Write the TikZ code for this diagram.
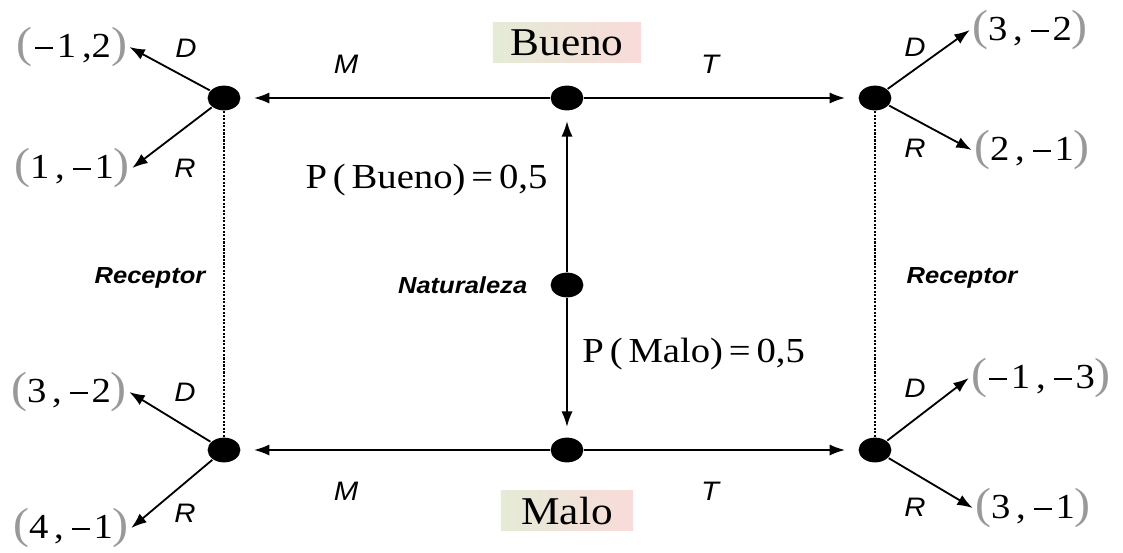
\documentclass[tikz,border=0pt]{standalone}
\usepackage{fontspec}
\setmainfont[FakeStretch=1.1]{Liberation Serif}
\setsansfont[FakeStretch=1.1]{Liberation Sans}
\usepackage{tikz}
\usetikzlibrary{arrows.meta, positioning, shapes.geometric}

\definecolor{stategreen}{RGB}{228,235,214}
\definecolor{statepink}{RGB}{249,219,217}
\newcommand{\paren}[1]{{\color{black!40}\fontsize{31}{31}\selectfont#1}}
\newcommand{\payoff}[2]{\paren{(}#1\,,\,#2\paren{)}}
\newcommand{\mn}{\hspace{0.06em}\rule[0.24em]{0.52em}{0.05em}\hspace{0.1em}}

\begin{document}
\begin{tikzpicture}[
    x=0.025cm, y=-0.025cm,
    every node/.style={align=center},
    dot/.style={ellipse, fill=black, inner sep=0pt, minimum width=0.82cm, minimum height=0.62cm},
    pay/.style={font=\fontsize{25}{27}\selectfont, inner sep=1pt},
    act/.style={font=\sffamily\itshape\fontsize{19}{21}\selectfont, inner sep=0pt},
    player/.style={font=\sffamily\bfseries\itshape\fontsize{16.5}{18}\selectfont},
    state/.style={font=\fontsize{28}{32}\selectfont, left color=stategreen, right color=statepink, inner sep=0pt, minimum width=3.7cm, minimum height=1cm},
    prob/.style={font=\fontsize{25}{28}\selectfont},
    >={Latex[length=11pt, width=8pt]},
    line width=1.3pt
]
\useasboundingbox (0,0) rectangle (1123,552);

% nodes of the game
\node[dot] (nat) at (567,285) {};
\node[dot] (good) at (567,98) {};
\node[dot] (bad) at (567,450) {};
\node[dot] (gl) at (224,98) {};
\node[dot] (gr) at (875,98) {};
\node[dot] (bl) at (224,450) {};
\node[dot] (br) at (875,450) {};

\node[state, above=15pt of good] (goodlab) {Bueno};
\node[state, below=19pt of bad, minimum width=3.3cm] (badlab) {Malo};
\node[player, left=12pt of nat] (natlab) {Naturaleza};
\node[player] (recl) at (150,278) {Receptor};
\node[player] (recr) at (962,278) {Receptor};

% payoffs
\node[pay] (p1) at (72,47) {\paren{(}\mn1\,,2\paren{)}};
\node[pay] (p2) at (72,168) {\payoff{1}{\mn1}};
\node[pay] (p3) at (1030,30) {\payoff{3}{\mn2}};
\node[pay] (p4) at (1032,150) {\payoff{2}{\mn1}};
\node[pay] (p5) at (69,392) {\payoff{3}{\mn2}};
\node[pay] (p6) at (71,528) {\payoff{4}{\mn1}};
\node[pay] (p7) at (1041,378) {\payoff{\mn1}{\mn3}};
\node[pay] (p8) at (1033,508) {\payoff{3}{\mn1}};

% chance moves
\draw[->, shorten >=7pt] (nat) -- node[prob, pos=.57, left=10pt] {P\,(\,Bueno)\,=\,0,5} (good);
\draw[->, shorten >=7pt] (nat) -- node[prob, pos=.4, right=7pt] {P\,(\,Malo)\,=\,0,5} (bad);

% sender
\draw[->, shorten >=9pt] (good) -- node[act, pos=.66, above=17pt] {M} (gl);
\draw[->, shorten >=9pt] (good) -- node[act, pos=.46, above=17pt] {T} (gr);
\draw[->, shorten >=9pt] (bad) -- node[act, pos=.66, below=22pt] {M} (bl);
\draw[->, shorten >=9pt] (bad) -- node[act, pos=.46, below=22pt] {T} (br);

% information sets
\draw[densely dotted, line width=1.5pt] (gl) -- (bl);
\draw[densely dotted, line width=1.5pt] (gr) -- (br);

% receiver
\draw[->] (gl) -- (p1.east);
\draw[->] (gl) -- (p2.east);
\draw[->] (gr) -- (p3.west);
\draw[->] (gr) -- (p4.west);
\draw[->] (bl) -- (p5.east);
\draw[->] (bl) -- (p6.east);
\draw[->] (br) -- (p7.west);
\draw[->] (br) -- (p8.west);

\node[act] (d1) at (186,48) {D};
\node[act] (r1) at (185,168) {R};
\node[act] (d2) at (915,47) {D};
\node[act] (r2) at (915,148) {R};
\node[act] (d3) at (185,392) {D};
\node[act] (r3) at (185,513) {R};
\node[act] (d4) at (915,388) {D};
\node[act] (r4) at (915,507) {R};
\end{tikzpicture}
\end{document}
